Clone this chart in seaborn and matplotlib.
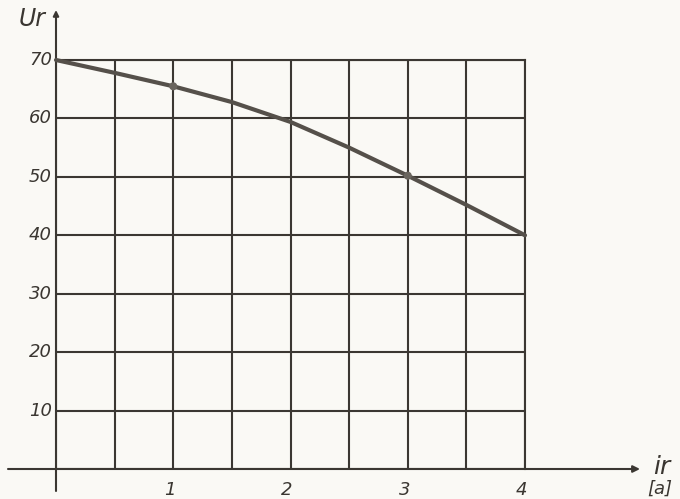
import numpy as np
import pandas as pd
import matplotlib
matplotlib.use("Agg")
import matplotlib.pyplot as plt
import seaborn as sns

# Data
current_a = [0.0, 0.5, 1.0, 1.5, 2.0, 2.5, 3.0, 3.5, 4.0]
voltage = [70.0, 67.8, 65.5, 62.8, 59.4, 55.0, 50.2, 45.2, 40.0]
marked_x = [1.0, 3.0]
marked_y = [65.5, 50.2]
x_tick_vals = [1, 2, 3, 4]
x_tick_labels = ["1", "2", "3", "4"]
y_tick_vals = [10, 20, 30, 40, 50, 60, 70]
y_tick_labels = ["10", "20", "30", "40", "50", "60", "70"]
x_label = "ir"
x_unit = "[a]"
y_label = "Ur"

sns.set_theme(style="white")
plt.rcParams["font.family"] = ["DejaVu Sans"]

ink = "#3b3732"
paper = "#faf9f5"

fig = plt.figure(figsize=(6.8, 4.99), dpi=100, facecolor=paper)
ax = fig.add_axes([56 / 680, 30 / 499, 469 / 680, 409 / 499])
ax.set_facecolor(paper)

df = pd.DataFrame({"i": current_a, "U": voltage})
sns.lineplot(data=df, x="i", y="U", ax=ax, color="#55504a", linewidth=3.0,
             zorder=5, clip_on=False)
ax.scatter(marked_x, marked_y, s=34, color="#6a655e", zorder=6,
           edgecolors="none")

ax.set_xlim(0, 4)
ax.set_ylim(0, 70)
ax.set_xticks(np.arange(0, 4.01, 0.5), minor=False)
ax.set_yticks(np.arange(0, 70.1, 10))
ax.grid(True, color=ink, linewidth=1.5)
ax.set_xticklabels([])
ax.set_yticklabels([])
ax.tick_params(length=0)
ax.set_xlabel("")
ax.set_ylabel("")
for side in ["top", "right"]:
    ax.spines[side].set_color(ink)
    ax.spines[side].set_linewidth(1.5)
for side in ["left", "bottom"]:
    ax.spines[side].set_visible(False)

# axis lines with arrows, extending beyond the grid
ax.annotate("", xy=(584 / 469, 0), xycoords=("axes fraction", "data"),
            xytext=(-48 / 469, 0), textcoords=("axes fraction", "data"),
            arrowprops=dict(arrowstyle="-|>", color=ink, lw=1.5,
                            mutation_scale=10, shrinkA=0, shrinkB=0),
            annotation_clip=False)
ax.annotate("", xy=(0, 1 + 50 / 409), xycoords=("data", "axes fraction"),
            xytext=(0, -22 / 409), textcoords=("data", "axes fraction"),
            arrowprops=dict(arrowstyle="-|>", color=ink, lw=1.5,
                            mutation_scale=8, shrinkA=0, shrinkB=0),
            annotation_clip=False)

tick_font = dict(fontsize=13, style="italic", color="#3a3631")
for v, lab in zip(y_tick_vals, y_tick_labels):
    ax.text(-0.035, v, lab, ha="right", va="center", clip_on=False, **tick_font)
for v, lab in zip(x_tick_vals, x_tick_labels):
    ax.text(v - 0.03, -3.6, lab, ha="center", va="center", clip_on=False,
            **tick_font)

ax.text(-0.2, 77.0, y_label, ha="center", va="center", fontsize=17,
        style="italic", color="#3a3631", clip_on=False)
ax.text(5.17, 0.3, x_label, ha="center", va="center", fontsize=18,
        style="italic", color="#3a3631", clip_on=False)
ax.text(5.15, -3.3, x_unit, ha="center", va="center", fontsize=13,
        style="italic", color="#3a3631", clip_on=False)

fig.savefig("out.png", dpi=100, facecolor=paper)
